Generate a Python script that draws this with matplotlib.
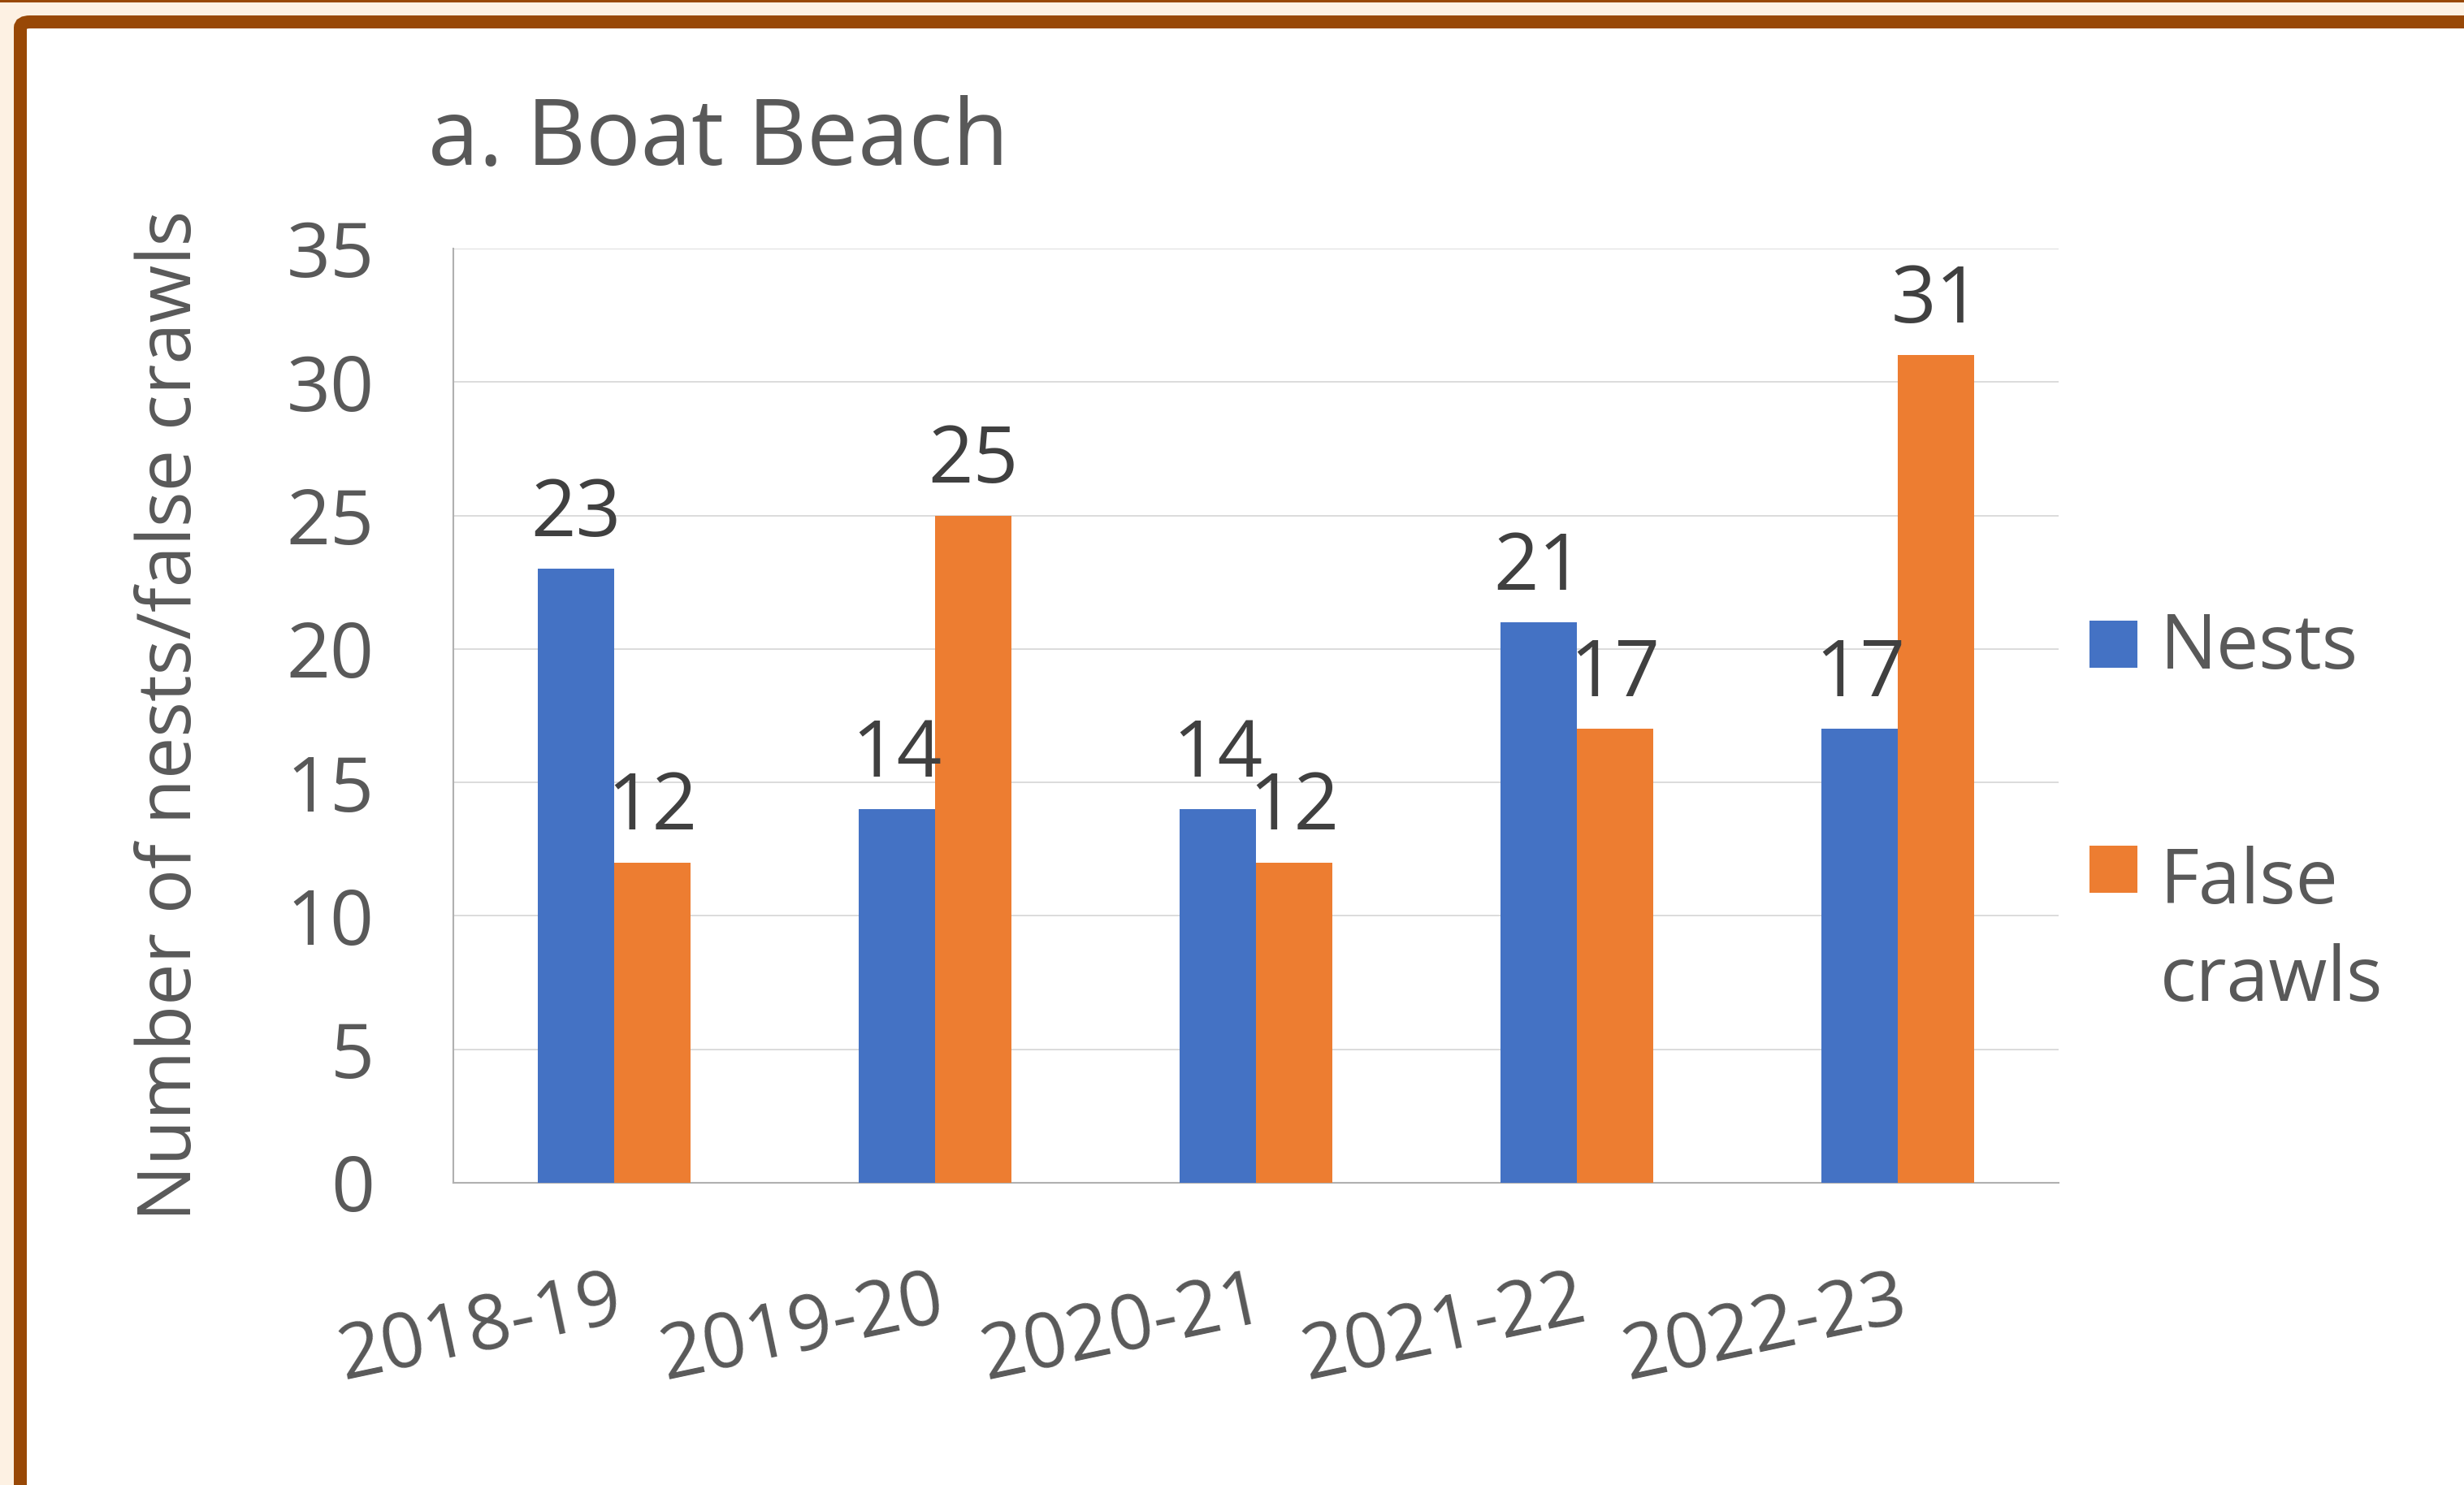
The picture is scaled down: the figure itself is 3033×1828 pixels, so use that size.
import matplotlib
matplotlib.use("Agg")
import matplotlib.pyplot as plt
from matplotlib.patches import FancyBboxPatch, Rectangle
import numpy as np

plt.rcParams['font.family'] = ['Open Sans', 'DejaVu Sans']

# data
seasons = ["2018-19", "2019-20", "2020-21", "2021-22", "2022-23"]
nests = [23, 14, 14, 21, 17]
false_crawls = [12, 25, 12, 17, 31]
series_names = ["Nests", "False\ncrawls"]
yticks = [0, 5, 10, 15, 20, 25, 30, 35]

W, H = 3033, 1828
DPI = 100
BLUE = "#4472C4"
ORANGE = "#ED7D31"
GREY = "#595959"
DARK = "#404040"
BROWN = "#984806"
BEIGE = "#FDF1E3"


def fx(px):
    return px / W


def fy(py):
    # pixel row from top -> figure fraction
    return 1 - py / H


fig = plt.figure(figsize=(W / DPI, H / DPI), dpi=DPI, facecolor=BEIGE)

# frame around the chart (behind the axes)
fig.patches.append(Rectangle((0, fy(3)), 1, 3 / H, transform=fig.transFigure,
                             facecolor=BROWN, edgecolor="none", zorder=-2))
fig.patches.append(FancyBboxPatch((fx(25), fy(1950)), fx(3200), 1923 / H,
                                  boxstyle="round,pad=0,rounding_size=0.004",
                                  transform=fig.transFigure, facecolor="white",
                                  edgecolor=BROWN, linewidth=16 * 0.72,
                                  zorder=-2))

ax = fig.add_axes([fx(558), fy(1456), fx(2534 - 558), (1456 - 306) / H])
ax.set_facecolor("white")

x = np.arange(len(seasons))
w = 0.238
b1 = ax.bar(x - w / 2, nests, w, color=BLUE, zorder=3)
b2 = ax.bar(x + w / 2, false_crawls, w, color=ORANGE, zorder=3)

for bars, vals in ((b1, nests), (b2, false_crawls)):
    for rect, v in zip(bars, vals):
        ax.annotate(str(v), (rect.get_x() + rect.get_width() / 2, v),
                    xytext=(0, 29), textcoords="offset points",
                    ha="center", va="baseline", fontsize=70, color=DARK,
                    zorder=4)

ax.set_xlim(-0.5, len(seasons) - 0.5)
ax.set_ylim(0, 35)
ax.set_yticks(yticks)
ax.yaxis.grid(True, color="#D9D9D9", linewidth=1.3)
ax.set_axisbelow(True)
ax.set_xticks(x)
ax.set_xticklabels(seasons, rotation=12, ha="right", va="top",
                   rotation_mode="anchor")
ax.tick_params(axis="y", length=0, pad=70, labelsize=68, labelcolor=GREY)
ax.tick_params(axis="x", length=0, pad=71, labelsize=68, labelcolor=GREY)

for s in ("top", "right"):
    ax.spines[s].set_visible(False)
for s in ("left", "bottom"):
    ax.spines[s].set_color("#B0B0B0")
    ax.spines[s].set_linewidth(1.5)

fig.text(fx(527), fy(203), "a. Boat Beach", fontsize=81, color=GREY,
         ha="left", va="baseline")
fig.text(fx(211), fy(881), "Number of nests/false crawls", fontsize=66,
         color=GREY, rotation=90, ha="center", va="center")

# legend
leg_sq = [(764, 822), (1041, 1099)]
leg_base = [823, 1102]
for name, col, (t, b), base in zip(series_names, [BLUE, ORANGE], leg_sq, leg_base):
    fig.patches.append(Rectangle((fx(2572), fy(b)), fx(59), (b - t) / H,
                                 transform=fig.transFigure, facecolor=col,
                                 edgecolor="none"))
    # baseline alignment uses the last line of a multi-line label
    last = base + 130 * name.count("\n")
    fig.text(fx(2659), fy(last), name, fontsize=67, color=GREY, ha="left",
             va="baseline", linespacing=1.38)

fig.savefig("out.png", dpi=DPI, facecolor=BEIGE)
